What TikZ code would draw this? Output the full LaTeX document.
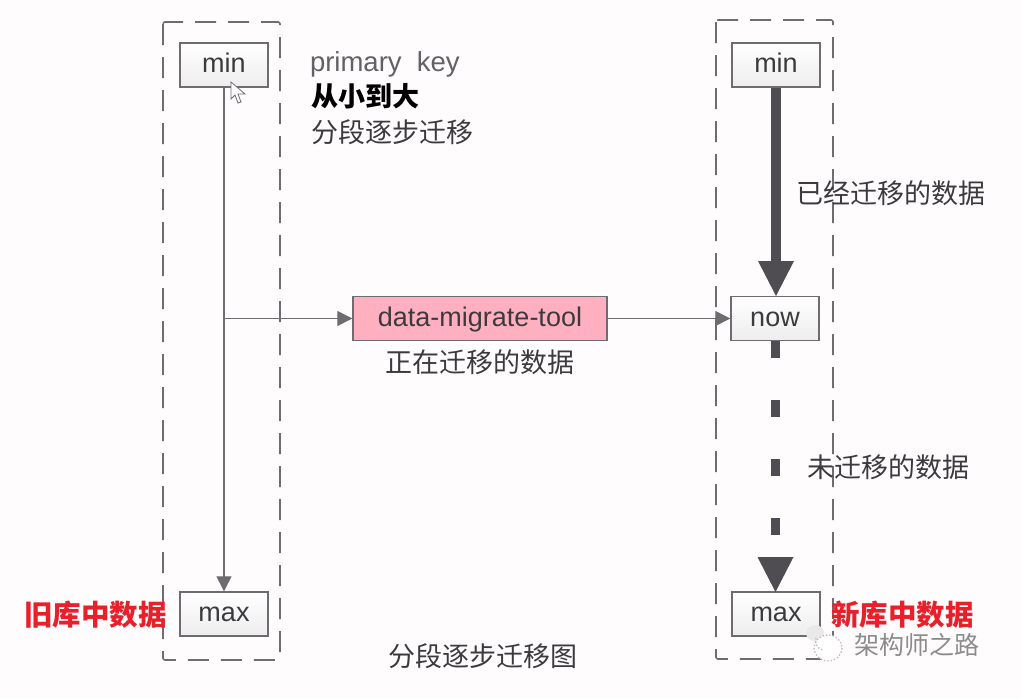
\documentclass[tikz,border=0pt]{standalone}
\usepackage{fontspec}
\setmainfont{Liberation Sans}
\newfontfamily\cjk{Noto Sans CJK SC}
\usetikzlibrary{arrows.meta,positioning,calc}
\definecolor{linegray}{HTML}{6E6C70}
\definecolor{darkline}{HTML}{4F4D52}
\definecolor{toolpink}{HTML}{FFB0C0}
\definecolor{txtgray}{HTML}{3C3A3E}
\definecolor{redtxt}{HTML}{E8202A}
\begin{document}
\begin{tikzpicture}[x=1pt,y=-1pt,>=Stealth,
  pt/.style={inner sep=0pt,outer sep=0pt},
  keybox/.style={draw=linegray,line width=1.4pt,top color=white,bottom color=black!7,minimum width=88pt,minimum height=44pt,inner sep=0pt,text height=15pt,text depth=0pt,font=\fontsize{27}{27}\selectfont,text=txtgray},
  toolbox/.style={keybox,top color=toolpink,bottom color=toolpink,minimum width=254pt},
  group/.style={draw=linegray,line width=1.6pt,rounded corners=2pt,dash pattern=on 21pt off 12pt},
  lbl/.style={pt,font=\cjk\fontsize{27}{27}\selectfont,text=txtgray},
  redlbl/.style={pt,font=\cjk\bfseries\fontsize{28.5}{28.5}\selectfont,text=redtxt},
  thin/.style={draw=linegray,line width=1.3pt,-{Triangle[length=15pt,width=15pt]}},
  thick/.style={draw=darkline,line width=9.5pt}]
  \fill[white!99!magenta] (0,0) rectangle (1022,699);
  \useasboundingbox (0,0) rectangle (1022,699);
  % dashed groups
  \draw[group] (163,22) rectangle (280,660);
  \draw[group] (716,20) rectangle (833,659);
  % old side
  \node[keybox](oldmin) at (224,65){min};
  \node[keybox](oldmax) at (224,614){max};
  % new side
  \node[keybox](newmin) at (776,65){min};
  \node[keybox](now) at (775,318.5){now};
  \node[keybox](newmax) at (776,614){max};
  \node[toolbox](tool) at (480,318.5){data-migrate-tool};
  % arrows
  \coordinate(branch) at (oldmin.south|-tool.west);
  \draw[thin](oldmin.south)--(oldmax.north);
  \draw[thin](branch)--(tool.west);
  \draw[thin](tool.east)--(now.west);
  \draw[thick](newmin.south)--($(now.north)+(1,-30)$);
  \fill[darkline](758,261)--(794,261)--(776,296)--cycle;
  \draw[thick,dash pattern=on 17pt off 42pt]($(now.south)+(.5,0)$)--($(newmax.north)+(-.5,-30)$);
  \fill[darkline](757.5,557)--(793.5,557)--(775.5,592)--cycle;
  % cursor
  \draw[linegray,fill=white,line width=.8pt](231,82)--(231,99)--(235,95)--(238,103)--(241,102)--(238,94)--(245,94)--cycle;
  % labels
  \node[pt,anchor=west,font=\fontsize{27.5}{27.5}\selectfont,text=txtgray!80](pk) at (310,64){primary\ \ key};
  \node[lbl,anchor=west,font=\cjk\bfseries\fontsize{27}{27}\selectfont,text=black](order) at (311,96){从小到大};
  \node[lbl,anchor=west](step) at (311,132){分段逐步迁移};
  \node[lbl,anchor=west](done) at (796,193){已经迁移的数据};
  \node[lbl](doing) at (480,362){正在迁移的数据};
  \node[lbl,anchor=west](todo) at (807,467){未迁移的数据};
  \node[lbl](title) at (483,656){分段逐步迁移图};
  \node[redlbl,anchor=west](oldname) at (24,615){旧库中数据};
  \node[redlbl,anchor=west](newname) at (831,615){新库中数据};
  % watermark
  \fill[white!85!linegray](815,633) ellipse (9 and 8);
  \fill[white](828,648) ellipse (14 and 13);
  \draw[white!55!linegray,line width=1.4pt,dotted](828,648) ellipse (14 and 13);
  \draw[white!55!linegray,line width=1.4pt,dotted](816,638) arc (200:100:9);
  \node[pt,anchor=west,font=\cjk\fontsize{25}{25}\selectfont,text=black!45](mark) at (854,645){架构师之路};
\end{tikzpicture}
\end{document}
